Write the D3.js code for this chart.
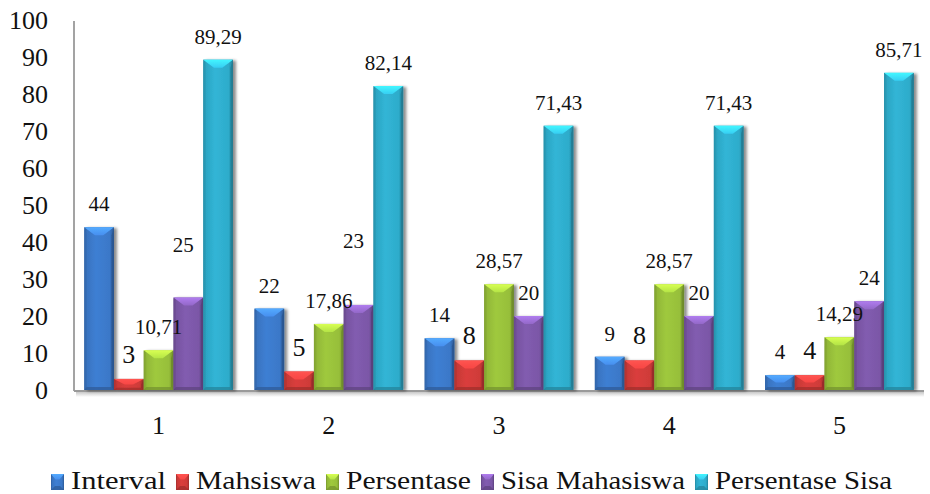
<!DOCTYPE html>
<html>
<head>
<meta charset="utf-8">
<script src="https://cdn.jsdelivr.net/npm/d3@7"></script>
<style>
  html, body { margin: 0; padding: 0; background: #fff; }
  svg { display: block; }
</style>
</head>
<body>
<svg id="chart" width="930" height="494" font-family="'Liberation Serif', 'DejaVu Serif', serif"></svg>
<script>
// Data
const categories = ["1", "2", "3", "4", "5"];
const seriesNames = ["Interval", "Mahsiswa", "Persentase", "Sisa Mahasiswa", "Persentase Sisa"];
const interval = [44, 22, 14, 9, 4];
const mahasiswa = [3, 5, 8, 8, 4];
const persentase = [10.71, 17.86, 28.57, 28.57, 14.29];
const sisaMahasiswa = [25, 23, 20, 20, 24];
const persentaseSisa = [89.29, 82.14, 71.43, 71.43, 85.71];
const yTicks = [0, 10, 20, 30, 40, 50, 60, 70, 80, 90, 100];

const seriesValues = [interval, mahasiswa, persentase, sisaMahasiswa, persentaseSisa];
const seriesColors = ["#3b78c8", "#cf3b39", "#97bf3a", "#7b57a7", "#2eaccb"];
// Extra offsets for a few value labels that sit higher above their bars
const labelShift = {"0-3": [-5, -30], "1-3": [-5, -41]};

const svg = d3.select("#chart");
const textColor = "#111";

const x0 = d3.scaleBand().domain(categories).range([74, 924]).paddingInner(0.126).paddingOuter(0.06);
const x1 = d3.scaleBand().domain(seriesNames).range([0, x0.bandwidth()]);
const y = d3.scaleLinear().domain([0, 100]).range([390, 20]);

const defs = svg.append("defs");

// Soft drop shadow for bars
const sh = defs.append("filter").attr("id", "shadow").attr("x", "-20%").attr("y", "-10%").attr("width", "150%").attr("height", "130%");
sh.append("feGaussianBlur").attr("in", "SourceAlpha").attr("stdDeviation", 1.6).attr("result", "b");
sh.append("feOffset").attr("in", "b").attr("dx", 2.5).attr("dy", 1).attr("result", "o");
sh.append("feComponentTransfer").attr("in", "o").attr("result", "s")
  .append("feFuncA").attr("type", "linear").attr("slope", 0.45);
const shm = sh.append("feMerge");
shm.append("feMergeNode").attr("in", "s");
shm.append("feMergeNode").attr("in", "SourceGraphic");

// Side-to-side shading for each series colour
seriesColors.forEach((c, i) => {
  const base = d3.color(c);
  const g = defs.append("linearGradient").attr("id", "grad" + i).attr("x1", 0).attr("x2", 1).attr("y1", 0).attr("y2", 0);
  [[0, base.darker(0.7)], [0.1, base.darker(0.1)], [0.4, base.brighter(0.15)], [0.85, base], [1, base.darker(0.8)]]
    .forEach(([o, col]) => g.append("stop").attr("offset", o).attr("stop-color", col.formatHex()));
  const t = defs.append("linearGradient").attr("id", "top" + i).attr("x1", 0).attr("x2", 0).attr("y1", 0).attr("y2", 1);
  t.append("stop").attr("offset", 0).attr("stop-color", base.brighter(1.0).formatHex());
  t.append("stop").attr("offset", 1).attr("stop-color", base.brighter(0.5).formatHex());
});

// Bevelled column
function bevelBar(g, x, yTop, w, h, i) {
  const base = d3.color(seriesColors[i]);
  const bh = Math.min(8, h * 0.5);
  const bw = Math.min(w * 0.36, 11);
  const bb = Math.min(3, h * 0.2);
  const s = 2.5;
  const b = g.append("g").attr("filter", "url(#shadow)");
  b.append("rect").attr("x", x).attr("y", yTop).attr("width", w).attr("height", h).attr("fill", `url(#grad${i})`);
  // top facet
  b.append("path").attr("d", `M${x},${yTop}L${x + w},${yTop}L${x + w - bw},${yTop + bh}L${x + bw},${yTop + bh}Z`)
    .attr("fill", `url(#top${i})`);
  // left & right facets
  b.append("path").attr("d", `M${x},${yTop}L${x + s},${yTop + bh}L${x + s},${yTop + h - bb}L${x},${yTop + h}Z`)
    .attr("fill", base.darker(0.3).formatHex()).attr("opacity", 0.6);
  b.append("path").attr("d", `M${x + w},${yTop}L${x + w - s},${yTop + bh}L${x + w - s},${yTop + h - bb}L${x + w},${yTop + h}Z`)
    .attr("fill", base.darker(1.0).formatHex()).attr("opacity", 0.7);
  // bottom facet
  b.append("path").attr("d", `M${x},${yTop + h}L${x + s},${yTop + h - bb}L${x + w - s},${yTop + h - bb}L${x + w},${yTop + h}Z`)
    .attr("fill", base.darker(0.8).formatHex()).attr("opacity", 0.7);
}

// Axes
svg.append("line").attr("x1", 74).attr("x2", 74).attr("y1", y(100) + 1).attr("y2", y(0) + 1)
  .attr("stroke", "#8c8c8c").attr("stroke-width", 1.6);

const floorShade = defs.append("linearGradient").attr("id", "floor").attr("x1", 0).attr("x2", 0).attr("y1", 0).attr("y2", 1);
floorShade.append("stop").attr("offset", 0).attr("stop-color", "#c8c8c8");
floorShade.append("stop").attr("offset", 1).attr("stop-color", "#ffffff");
svg.append("rect").attr("x", 76).attr("y", y(0) + 2).attr("width", 848).attr("height", 5).attr("fill", "url(#floor)");
svg.append("line").attr("x1", 74).attr("x2", 924).attr("y1", y(0) + 1).attr("y2", y(0) + 1)
  .attr("stroke", "#9a9a9a").attr("stroke-width", 2);

svg.append("g").selectAll("text").data(yTicks).join("text")
  .attr("x", 48).attr("y", d => y(d)).attr("dy", "0.34em").attr("fill", textColor)
  .attr("text-anchor", "end").attr("font-size", 26).text(d => d);

svg.append("g").selectAll("text").data(categories).join("text")
  .attr("x", d => x0(d) + x0.bandwidth() / 2).attr("y", 425).attr("dy", "0.34em").attr("fill", textColor)
  .attr("text-anchor", "middle").attr("font-size", 26).text(d => d);

// Bars
const fmt = v => String(v).replace(".", ",");
const barLayer = svg.append("g");
const labelLayer = svg.append("g");
categories.forEach((cat, ci) => {
  seriesNames.forEach((name, si) => {
    const v = seriesValues[si][ci];
    const bx = x0(cat) + x1(name);
    const w = x1.bandwidth();
    bevelBar(barLayer, bx, y(v), w, y(0) - y(v), si);
    const shift = labelShift[ci + "-" + si] || [0, 0];
    labelLayer.append("text")
      .attr("x", bx + w / 2 + shift[0])
      .attr("y", y(v) - 16 + shift[1])
      .attr("text-anchor", "middle").attr("fill", textColor)
      .attr("font-size", si === 1 ? 26 : 21)
      .text(fmt(v));
  });
});

// Legend
const legendWidths = [95, 120, 125, 184, 177];
const legend = svg.append("g");
let lx = 51;
seriesNames.forEach((name, i) => {
  const base = d3.color(seriesColors[i]);
  const mg = legend.append("g");
  mg.append("rect").attr("x", lx).attr("y", 474).attr("width", 13).attr("height", 16).attr("fill", `url(#grad${i})`);
  mg.append("path").attr("d", `M${lx},474L${lx + 13},474L${lx + 8.5},479.5L${lx + 4.5},479.5Z`).attr("fill", `url(#top${i})`);
  mg.append("path").attr("d", `M${lx},490L${lx + 4},486L${lx + 9},486L${lx + 13},490Z`).attr("fill", base.darker(0.8).formatHex()).attr("opacity", 0.7);
  legend.append("text").attr("x", lx + 20).attr("y", 489).attr("font-size", 26).attr("fill", textColor)
    .attr("textLength", legendWidths[i]).attr("lengthAdjust", "spacingAndGlyphs").text(name);
  lx += 20 + legendWidths[i] + 10;
});
</script>
</body>
</html>
